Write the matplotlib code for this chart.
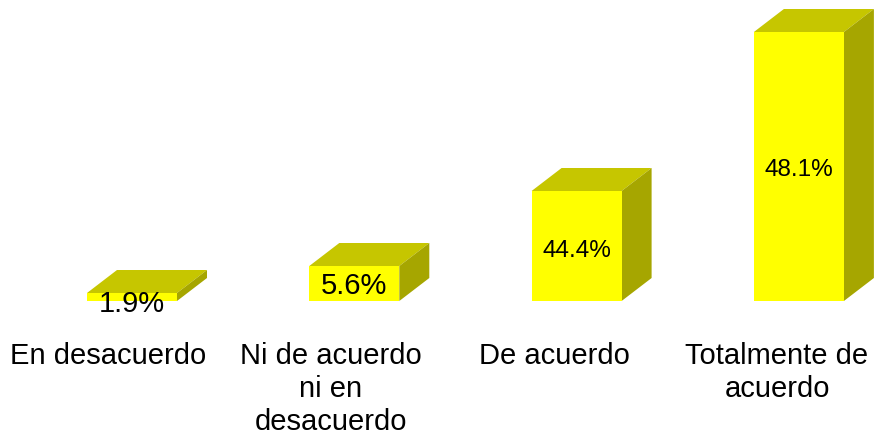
import numpy as np
import matplotlib
matplotlib.use("Agg")
import matplotlib.pyplot as plt
from matplotlib.patches import Polygon
from matplotlib.transforms import IdentityTransform

categories = ["En desacuerdo", "Ni de acuerdo\nni en\ndesacuerdo", "De acuerdo", "Totalmente de\nacuerdo"]
values = [1.9, 5.6, 44.4, 48.1]
value_labels = ["1.9%", "5.6%", "44.4%", "48.1%"]
label_sizes = [21, 21, 17.5, 17.5]
label_shifts = [-7, -3, -5, -4]

# Value axis is not linear: each segment has its own stretch
scale_values = [0, 1.9, 5.6, 44.4, 48.1]
scale_fractions = [0, 8 / 269, 35 / 269, 110 / 269, 1]

FRONT, TOP, SIDE = "#FFFF00", "#C6C600", "#A6A600"
DEPTH_X, DEPTH_Y = 30, 23  # px
W, H = 874, 434
UNIT = 223.0
BAR_SHIFT = 24 / UNIT
BAR_STEP = 222.3 / UNIT
BAR_WIDTH = 90 / UNIT

plt.rcParams["font.family"] = ["Liberation Sans", "DejaVu Sans"]
fig = plt.figure(figsize=(W / 100, H / 100), dpi=100)
ax = fig.add_axes([0, (H - 301) / H, 1, 269 / H])
ax.set_yscale("function", functions=(
    lambda v: np.interp(v, scale_values, scale_fractions),
    lambda f: np.interp(f, scale_fractions, scale_values),
))
ax.set_ylim(0, 48.1)
ax.set_xlim(-108 / UNIT, (W - 108) / UNIT)

x = np.arange(len(categories))
bar_x = x * BAR_STEP + BAR_SHIFT
ax.bar(bar_x, values, BAR_WIDTH, color=FRONT, linewidth=0, zorder=3)

# Top and side faces of the boxes, offset in pixels from the front face
to_px = ax.transData.transform
for xi, v in zip(bar_x, values):
    (x0, y0), (x1, y1) = to_px([(xi - BAR_WIDTH / 2, 0), (xi + BAR_WIDTH / 2, v)])
    faces = [
        ([(x0, y1), (x1, y1), (x1 + DEPTH_X, y1 + DEPTH_Y), (x0 + DEPTH_X, y1 + DEPTH_Y)], TOP),
        ([(x1, y0), (x1 + DEPTH_X, y0 + DEPTH_Y), (x1 + DEPTH_X, y1 + DEPTH_Y), (x1, y1)], SIDE),
    ]
    for pts, color in faces:
        ax.add_patch(Polygon(pts, closed=True, facecolor=color, edgecolor="none",
                             transform=IdentityTransform(), clip_on=False, zorder=2))

for xi, v, text, size, shift in zip(bar_x, values, value_labels, label_sizes, label_shifts):
    (_, y0), (_, y1) = to_px([(xi, 0), (xi, v)])
    ax.annotate(text, xy=(xi, 0), xycoords=("data", "data"),
                xytext=(0, ((y1 - y0) / 2 + shift) * 0.72), textcoords="offset points",
                ha="center", va="center", fontsize=size, color="black", zorder=5,
                annotation_clip=False)

ax.set_xticks(x, categories)
ax.tick_params(axis="x", length=0, pad=29.5, labelsize=21)
for lbl in ax.get_xticklabels():
    lbl.set_linespacing(1.22)
ax.tick_params(axis="y", left=False, labelleft=False, which="both")
for spine in ax.spines.values():
    spine.set_visible(False)
ax.patch.set_visible(False)

fig.savefig("out.png", dpi=100)
